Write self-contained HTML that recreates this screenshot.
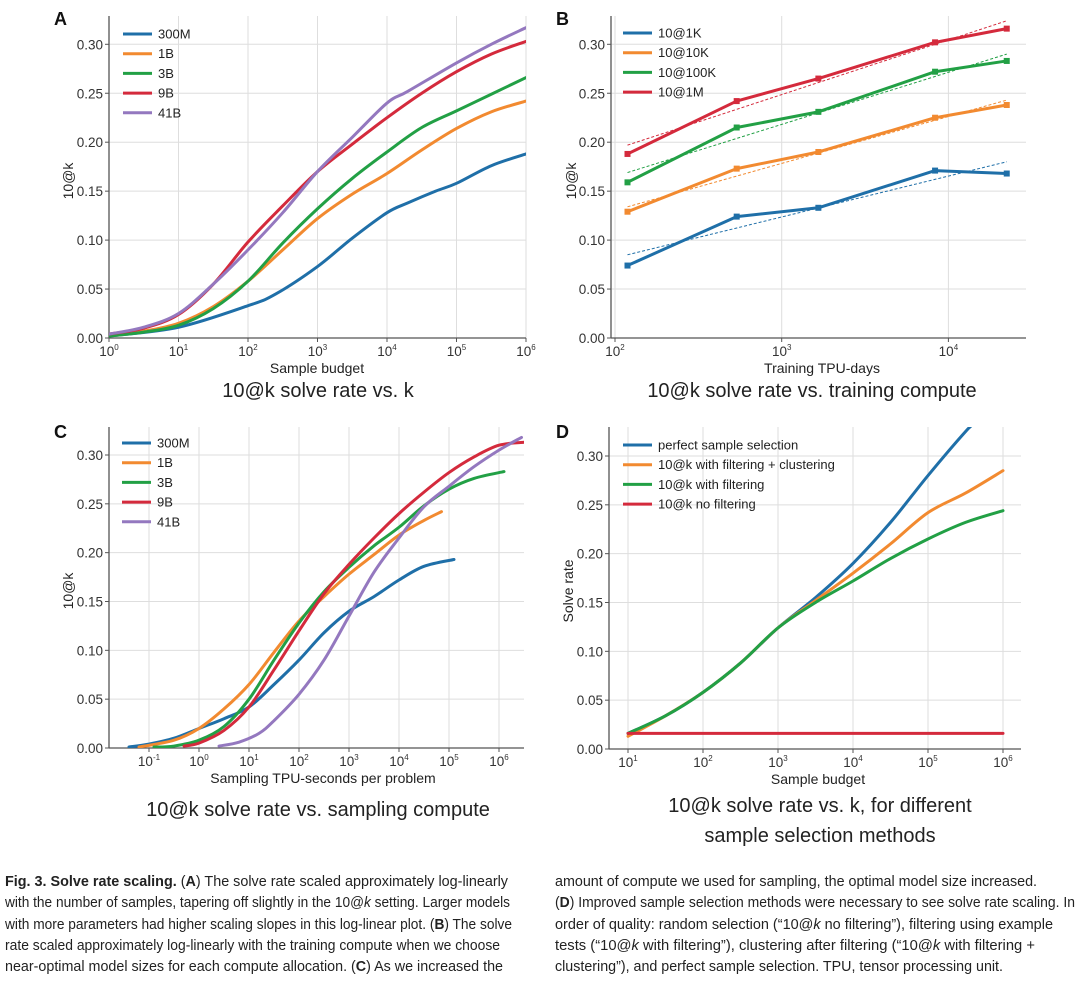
<!DOCTYPE html>
<html><head><meta charset="utf-8">
<style>
html,body{margin:0;padding:0;background:#fff;}
svg{display:block;font-family:"Liberation Sans",sans-serif;}
.tick{font-size:13.5px;fill:#333;}
.lab{font-size:14px;fill:#222;}
.ttl{font-size:20px;fill:#222;}
.leg{font-size:13px;fill:#222;}
.pl{font-size:18px;font-weight:bold;fill:#111;}
.cap{font-family:"Liberation Sans Narrow","Liberation Sans",sans-serif;font-size:14.5px;fill:#222;}
</style></head><body>
<svg id="fig" width="1080" height="986" viewBox="0 0 1080 986">
<g id="panels"></g>
<g class="cap">
<text x="5" y="886" textLength="503" lengthAdjust="spacingAndGlyphs"><tspan font-weight="bold">Fig. 3. Solve rate scaling.</tspan> (<tspan font-weight="bold">A</tspan>) The solve rate scaled approximately log-linearly</text>
<text x="5" y="907" textLength="505" lengthAdjust="spacingAndGlyphs">with the number of samples, tapering off slightly in the 10@<tspan font-style="italic">k</tspan> setting. Larger models</text>
<text x="5" y="929" textLength="507" lengthAdjust="spacingAndGlyphs">with more parameters had higher scaling slopes in this log-linear plot. (<tspan font-weight="bold">B</tspan>) The solve</text>
<text x="5" y="950" textLength="495" lengthAdjust="spacingAndGlyphs">rate scaled approximately log-linearly with the training compute when we choose</text>
<text x="5" y="971" textLength="498" lengthAdjust="spacingAndGlyphs">near-optimal model sizes for each compute allocation. (<tspan font-weight="bold">C</tspan>) As we increased the</text>
<text x="555" y="886" textLength="482" lengthAdjust="spacingAndGlyphs">amount of compute we used for sampling, the optimal model size increased.</text>
<text x="555" y="907" textLength="520" lengthAdjust="spacingAndGlyphs">(<tspan font-weight="bold">D</tspan>) Improved sample selection methods were necessary to see solve rate scaling. In</text>
<text x="555" y="929" textLength="498" lengthAdjust="spacingAndGlyphs">order of quality: random selection (“10@<tspan font-style="italic">k</tspan> no filtering”), filtering using example</text>
<text x="555" y="950" textLength="480" lengthAdjust="spacingAndGlyphs">tests (“10@<tspan font-style="italic">k</tspan> with filtering”), clustering after filtering (“10@<tspan font-style="italic">k</tspan> with filtering +</text>
<text x="555" y="971" textLength="448" lengthAdjust="spacingAndGlyphs">clustering”), and perfect sample selection. TPU, tensor processing unit.</text>
</g>
</svg>
<script>
// ---------- Data (log10 x, value) ----------
const colors = ["#1f6fa8","#f28a30","#22a045","#d42a3c","#9478bf"];
// Panel A
const aNames = ["300M","1B","3B","9B","41B"];
const aX300M = [0,1,2,2.4,3,3.5,4,4.3,4.7,5,5.5,6];
const aY300M = [0.002,0.011,0.033,0.045,0.073,0.102,0.128,0.138,0.150,0.158,0.176,0.188];
const aX1B = [0,0.5,1,1.5,2,2.5,3,3.5,4,4.5,5,5.5,6];
const aY1B = [0.003,0.007,0.015,0.032,0.058,0.090,0.122,0.147,0.168,0.192,0.214,0.231,0.242];
const aX3B = [0,0.5,1,1.5,2,2.5,3,3.5,4,4.5,5,5.5,6];
const aY3B = [0.002,0.006,0.013,0.030,0.058,0.097,0.132,0.163,0.190,0.215,0.232,0.249,0.266];
const aX9B = [0,0.5,1,1.5,2,2.5,3,3.5,4,4.5,5,5.5,6];
const aY9B = [0.004,0.010,0.024,0.055,0.098,0.135,0.170,0.198,0.225,0.250,0.272,0.290,0.303];
const aX41B = [0,0.5,1,1.5,2,2.5,3,3.5,4,4.3,5,5.5,6];
const aY41B = [0.004,0.011,0.025,0.055,0.090,0.128,0.170,0.205,0.240,0.252,0.281,0.300,0.317];
// Panel B
const bNames = ["10@1K","10@10K","10@100K","10@1M"];
const bX = [2.075,2.73,3.22,3.92,4.35];
const bY1K = [0.074,0.124,0.133,0.171,0.168];
const bY10K = [0.129,0.173,0.190,0.225,0.238];
const bY100K = [0.159,0.215,0.231,0.272,0.283];
const bY1M = [0.188,0.242,0.265,0.302,0.316];
const bFitStart = [0.085,0.134,0.169,0.197];
const bFitEnd = [0.180,0.243,0.290,0.324];
// Panel C
const cX300M = [-1.4,-1,-0.5,0,0.5,1,1.5,2,2.5,3,3.5,4,4.5,5.1];
const cY300M = [0.001,0.004,0.010,0.020,0.030,0.042,0.065,0.090,0.118,0.140,0.155,0.172,0.186,0.193];
const cX1B = [-1.2,-0.5,0,0.5,1,1.5,2,2.5,3,3.5,4,4.5,4.85];
const cY1B = [0.001,0.008,0.020,0.040,0.065,0.098,0.130,0.155,0.178,0.198,0.218,0.233,0.242];
const cX3B = [-0.9,-0.5,0,0.5,1,1.5,2,2.5,3,3.5,4,4.5,5,5.5,6.1];
const cY3B = [0.001,0.002,0.008,0.022,0.050,0.090,0.128,0.160,0.185,0.207,0.226,0.248,0.265,0.276,0.283];
const cX9B = [-0.3,0,0.5,1,1.5,2,2.5,3,3.5,4,4.5,5,5.5,6,6.5];
const cY9B = [0.002,0.005,0.018,0.042,0.080,0.120,0.158,0.188,0.215,0.240,0.262,0.282,0.298,0.310,0.313];
const cX41B = [0.4,0.8,1.2,1.5,2,2.5,3,3.5,4,4.5,5,5.5,6,6.45];
const cY41B = [0.002,0.006,0.015,0.028,0.055,0.090,0.135,0.180,0.215,0.247,0.268,0.288,0.305,0.318];
// Panel D
const dNames = ["perfect sample selection","10@k with filtering + clustering","10@k with filtering","10@k no filtering"];
const dXPerfect = [1,1.5,2,2.5,3,3.5,4,4.5,5,5.5,5.62];
const dYPerfect = [0.016,0.034,0.058,0.088,0.124,0.155,0.190,0.232,0.280,0.325,0.333];
const dXClust = [1,1.5,2,2.5,3,3.5,4,4.5,5,5.5,6];
const dYClust = [0.013,0.034,0.058,0.088,0.124,0.152,0.180,0.210,0.242,0.262,0.285];
const dXFilt = [1,1.5,2,2.5,3,3.5,4,4.5,5,5.5,6];
const dYFilt = [0.016,0.034,0.058,0.088,0.124,0.150,0.172,0.195,0.215,0.232,0.244];
const dXNo = [1,6];
const dYNo = [0.016,0.016];
const yTicks = [0,0.05,0.10,0.15,0.20,0.25,0.30];

const NS="http://www.w3.org/2000/svg";
const root=document.getElementById('panels');
function mk(tag,attrs,parent){const e=document.createElementNS(NS,tag);for(const k in attrs)e.setAttribute(k,attrs[k]);(parent||root).appendChild(e);return e;}

function makeAxes(cfg){
  const g=mk('g',{});
  
  
  const sx=v=>cfg.px0+(v-cfg.lx0)*cfg.dec;
  const sy=v=>cfg.py0-v*cfg.ys;
  const clipId=cfg.name+'-clip';
  const cp=mk('clipPath',{id:clipId},g);
  mk('rect',{x:cfg.left,y:cfg.top,width:cfg.right-cfg.left,height:cfg.py0-cfg.top},cp);
  // grid
  for(const t of yTicks){
    const gl=mk('line',{x1:cfg.left,x2:cfg.right,y1:sy(t),y2:sy(t),stroke:'#dedede','stroke-width':1},g);
    
    
    const tl=mk('text',{x:cfg.left-6,y:sy(t)+5,'text-anchor':'end',class:'tick'},g);
    tl.textContent=t.toFixed(2);
    
    
    mk('line',{x1:cfg.left-4,x2:cfg.left,y1:sy(t),y2:sy(t),stroke:'#555'},g);
  }
  for(const d of cfg.xt){
    const x=sx(d);
    const gl=mk('line',{x1:x,x2:x,y1:cfg.top,y2:cfg.py0,stroke:'#dedede','stroke-width':1},g);
    
    
    mk('line',{x1:x,x2:x,y1:cfg.py0,y2:cfg.py0+4,stroke:'#555'},g);
    const tl=mk('text',{x:x,y:cfg.py0+18,'text-anchor':'middle',class:'tick'},g);
    
    
    tl.textContent='10';
    const sp=mk('tspan',{dy:-6,'font-size':'8px'},tl);sp.textContent=(d<0?'-':'')+Math.abs(d);
  }
  mk('line',{x1:cfg.left,x2:cfg.left,y1:cfg.top,y2:cfg.py0,stroke:'#555','stroke-width':1.3},g);
  mk('line',{x1:cfg.left,x2:cfg.right,y1:cfg.py0,y2:cfg.py0,stroke:'#555','stroke-width':1.3},g);
  const xl=mk('text',{x:cfg.xlx,y:cfg.xly,'text-anchor':'middle',class:'lab'},g);
  xl.textContent=cfg.xlabel;
  
  
  const yl=mk('text',{x:0,y:0,'text-anchor':'middle',class:'lab',transform:`translate(${cfg.ylx},${cfg.yly}) rotate(-90)`},g);
  yl.textContent=cfg.ylabel;
  
  
  const pl=mk('text',{x:cfg.plx,y:cfg.ply,class:'pl'},g);
  pl.textContent=cfg.letter;
  
  
  cfg.titles.forEach((t,i)=>{
    const tt=mk('text',{x:cfg.tx,y:cfg.ty+i*30,'text-anchor':'middle',class:'ttl'},g);
    tt.textContent=t;
    
    
  });
  return {g,sx,sy,clipId};
}

function smoothPath(pts){
  let d=`M${pts[0][0]},${pts[0][1]}`;
  for(let i=0;i<pts.length-1;i++){
    const p0=pts[i-1]||pts[i],p1=pts[i],p2=pts[i+1],p3=pts[i+2]||p2;
    const c1=[p1[0]+(p2[0]-p0[0])/6,p1[1]+(p2[1]-p0[1])/6];
    const c2=[p2[0]-(p3[0]-p1[0])/6,p2[1]-(p3[1]-p1[1])/6];
    d+=` C${c1[0]},${c1[1]} ${c2[0]},${c2[1]} ${p2[0]},${p2[1]}`;
  }
  return d;
}
function drawSeries(ax,xs,ys,color,name,smooth,extra){
  const pts=xs.map((x,i)=>[ax.sx(x),ax.sy(ys[i])]);
  const d=smooth?smoothPath(pts):'M'+pts.map(p=>p.join(',')).join(' L');
  const p=mk('path',Object.assign({d:d,fill:'none',stroke:color,'stroke-width':3,'stroke-linejoin':'round','stroke-linecap':'round','clip-path':`url(#${ax.clipId})`},extra||{}),ax.g);
  
  
  return p;
}
function legend(ax,names,x,y,cols){
  const lg=mk('g',{},ax.g);
  
  
  names.forEach((n,i)=>{
    const yy=y+i*19.7;
    const e=mk('g',{},lg);
    
    
    mk('line',{x1:x,x2:x+29,y1:yy,y2:yy,stroke:cols[i],'stroke-width':3},e);
    const t=mk('text',{x:x+35,y:yy+4.5,class:'leg'},e);t.textContent=n;
  });
}

// Panel A
const A=makeAxes({name:'panel-a',px0:109,lx0:0,dec:69.5,py0:338,ys:979,left:109,right:526,top:16,xt:[0,1,2,3,4,5,6],
  xlabel:'Sample budget',xlx:317,xly:373,ylabel:'10@k',ylx:73,yly:181,letter:'A',plx:54,ply:25,titles:['10@k solve rate vs. k'],tx:318,ty:397});
drawSeries(A,aX300M,aY300M,colors[0],'line-300m',true);
drawSeries(A,aX1B,aY1B,colors[1],'line-1b',true);
drawSeries(A,aX3B,aY3B,colors[2],'line-3b',true);
drawSeries(A,aX9B,aY9B,colors[3],'line-9b',true);
drawSeries(A,aX41B,aY41B,colors[4],'line-41b',true);
legend(A,aNames,123,34,colors);

// Panel B
const B=makeAxes({name:'panel-b',px0:615,lx0:2,dec:166.7,py0:338,ys:979,left:611,right:1026,top:16,xt:[2,3,4],
  xlabel:'Training TPU-days',xlx:822,xly:373,ylabel:'10@k',ylx:576,yly:181,letter:'B',plx:556,ply:25,titles:['10@k solve rate vs. training compute'],tx:812,ty:397});
const bSeries=[bY1K,bY10K,bY100K,bY1M];
bSeries.forEach((ys,i)=>{
  const f=mk('line',{x1:B.sx(bX[0]),x2:B.sx(bX[bX.length-1]),y1:B.sy(bFitStart[i]),y2:B.sy(bFitEnd[i]),stroke:colors[i],'stroke-width':1,'stroke-dasharray':'3,2'},B.g);
  
  
  drawSeries(B,bX,ys,colors[i],'line-'+bNames[i].replace('@','at-').toLowerCase(),false);
  bX.forEach((x,j)=>{
    const m=mk('rect',{x:B.sx(x)-3,y:B.sy(ys[j])-3,width:6,height:6,fill:colors[i]},B.g);
    
    
  });
});
legend(B,bNames,623,33,colors);

// Panel C
const C=makeAxes({name:'panel-c',px0:149,lx0:-1,dec:50,py0:748,ys:976.7,left:109,right:524,top:427,xt:[-1,0,1,2,3,4,5,6],
  xlabel:'Sampling TPU-seconds per problem',xlx:323,xly:783,ylabel:'10@k',ylx:73,yly:591,letter:'C',plx:54,ply:438,titles:['10@k solve rate vs. sampling compute'],tx:318,ty:816});
drawSeries(C,cX300M,cY300M,colors[0],'line-300m',true);
drawSeries(C,cX1B,cY1B,colors[1],'line-1b',true);
drawSeries(C,cX3B,cY3B,colors[2],'line-3b',true);
drawSeries(C,cX9B,cY9B,colors[3],'line-9b',true);
drawSeries(C,cX41B,cY41B,colors[4],'line-41b',true);
legend(C,aNames,122,443,colors);

// Panel D
const D=makeAxes({name:'panel-d',px0:628,lx0:1,dec:75,py0:749,ys:976.7,left:609,right:1021,top:427,xt:[1,2,3,4,5,6],
  xlabel:'Sample budget',xlx:818,xly:784,ylabel:'Solve rate',ylx:573,yly:591,letter:'D',plx:556,ply:438,titles:['10@k solve rate vs. k, for different','sample selection methods'],tx:820,ty:812});
drawSeries(D,dXPerfect,dYPerfect,colors[0],'line-perfect-selection',true);
drawSeries(D,dXClust,dYClust,colors[1],'line-filtering-clustering',true);
drawSeries(D,dXFilt,dYFilt,colors[2],'line-filtering',true);
drawSeries(D,dXNo,dYNo,colors[3],'line-no-filtering',false);
legend(D,dNames,623,445,colors);
</script>
</body></html>
